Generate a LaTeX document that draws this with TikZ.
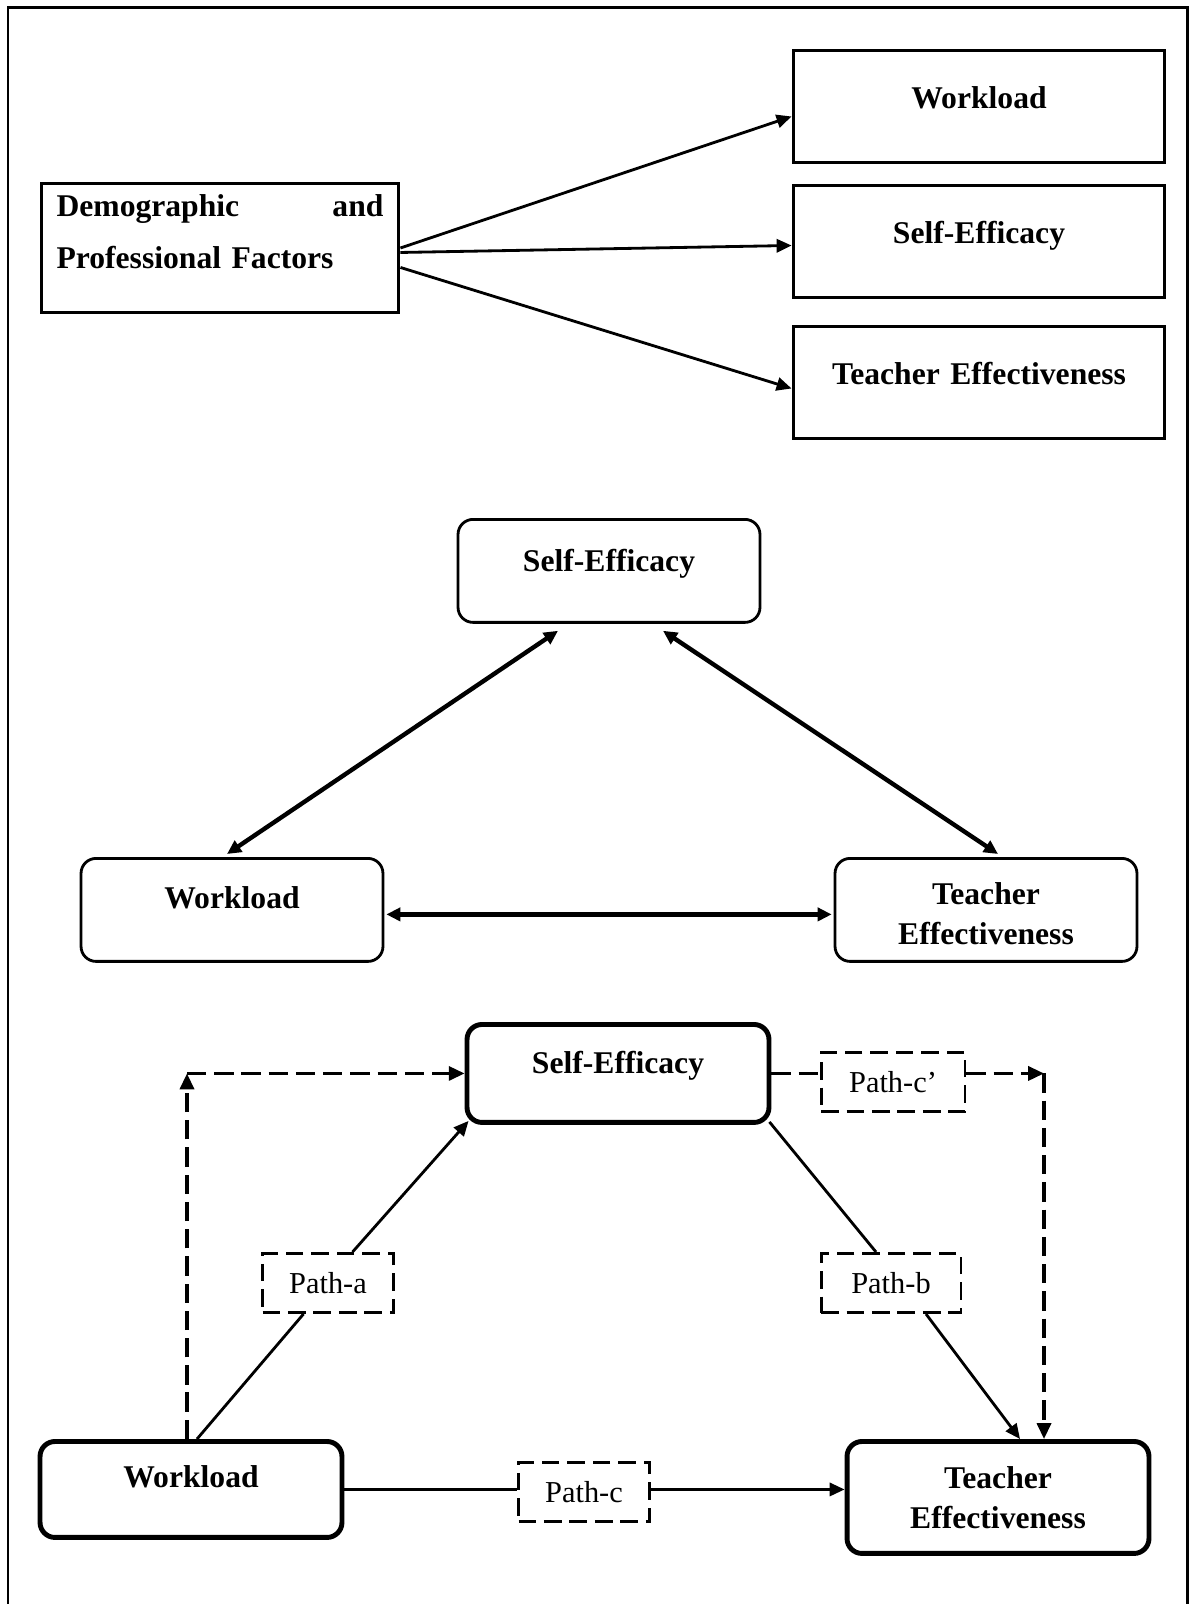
\documentclass[tikz,border=0pt]{standalone}
\usepackage{fontspec}
\setmainfont{Liberation Serif}
\usetikzlibrary{arrows.meta}

\begin{document}
\begin{tikzpicture}[x=0.02cm, y=-0.02cm,
	every node/.style={inner sep=0pt, font=\bfseries\fontsize{18}{22.7}\selectfont},
	sqbox/.style={draw, line width=1.7pt, anchor=north, text width=7.44cm, align=center, text height=1.16cm, text depth=1.08cm},
	rbox/.style={draw, line width=1.6pt, rounded corners=0.3cm, anchor=north, text width=6.04cm, align=center},
	thickbox/.style={rbox, line width=2.8pt},
	pathbox/.style={draw, line width=1.7pt, dash pattern=on 10pt off 4.5pt, minimum height=1.18cm, font=\fontsize{17.3}{20}\selectfont},
	plain/.style={line width=1.6pt},
	link/.style={plain, -{Triangle[length=8.5pt, width=7.5pt]}},
	dashline/.style={line width=1.8pt, dash pattern=on 11pt off 4.5pt},
	dashlink/.style={dashline, -{Triangle[length=9pt, width=8pt]}},
	twoway/.style={line width=2.5pt, {Triangle[length=8pt, width=7.5pt]}-{Triangle[length=8pt, width=7.5pt]}}]
	\useasboundingbox (0,0) rectangle (1191,1604);
	\draw[line width=1.7pt] (8,1604) -- (8,8) -- (1187,8) -- (1187,1604);

	\node[draw, line width=1.7pt, anchor=north, text width=6.54cm, inner xsep=0.31cm, align=left, font=\bfseries\fontsize{18}{29.5}\selectfont, text height=0.66cm, text depth=1.92cm] (demo) at (220,182) {Demographic\hfill and\\Professional Factors};
	\node[sqbox] (wl1) at (979,49) {Workload};
	\node[sqbox] (se1) at (979,184) {Self-Efficacy};
	\node[sqbox] (te1) at (979,325) {Teacher Effectiveness};
	\draw[link] (demo.east) -- ([yshift=-0.2cm]wl1.west);
	\draw[link] ([yshift=-0.09cm]demo.east) -- ([yshift=-0.08cm]se1.west);
	\draw[link] ([yshift=-0.39cm]demo.east) -- ([yshift=-0.12cm]te1.west);

	\node[rbox, text height=1.04cm, text depth=1.02cm] (se2) at (609,518) {Self-Efficacy};
	\node[rbox, text height=1cm, text depth=1.06cm] (wl2) at (232,857) {Workload};
	\node[rbox, text height=0.92cm, text depth=1.14cm] (te2) at (986,857) {Teacher\\Effectiveness};
	\draw[twoway] ([xshift=-1.02cm,yshift=-0.14cm]se2.south) -- ([xshift=-0.1cm,yshift=0.06cm]wl2.north);
	\draw[twoway] ([xshift=1.08cm,yshift=-0.14cm]se2.south) -- ([xshift=0.24cm,yshift=0.06cm]te2.north);
	\draw[twoway] ([xshift=0.04cm,yshift=-0.09cm]wl2.east) -- ([xshift=-0.04cm,yshift=-0.09cm]te2.west);

	\node[thickbox, text height=0.98cm, text depth=0.98cm] (se3) at (618,1022) {Self-Efficacy};
	\node[thickbox, text height=0.92cm, text depth=1cm] (wl3) at (191,1439) {Workload};
	\node[thickbox, text height=0.94cm, text depth=1.3cm] (te3) at (998,1439) {Teacher\\Effectiveness};
	\node[pathbox, minimum width=2.62cm] (pa) at (328,1283) {Path-a};
	\node[pathbox, minimum width=2.8cm] (pb) at (891,1283) {Path-b};
	\node[pathbox, minimum width=2.62cm] (pc) at (584,1492) {Path-c};
	\node[pathbox, minimum width=2.88cm] (pcp) at (893,1082) {Path-c’};
	\coordinate (wlTop) at ([xshift=-0.08cm]wl3.north);
	\coordinate (upL) at (wlTop |- se3.west);
	\coordinate (teTop) at ([xshift=0.92cm]te3.north);
	\coordinate (upR) at (teTop |- se3.east);
	\draw[plain] ([xshift=0.12cm]wl3.north) -- ([xshift=-0.49cm]pa.south);
	\draw[link] ([xshift=0.49cm]pa.north) -- ([xshift=0.08cm,yshift=0.08cm]se3.south west);
	\draw[plain] ([xshift=-0.04cm,yshift=0.06cm]se3.south east) -- ([xshift=-0.3cm]pb.north);
	\draw[link] ([xshift=0.7cm]pb.south) -- ([xshift=0.44cm]te3.north);
	\draw[plain] (wl3.east) -- (wl3.east -| pc.west);
	\draw[link] (pc.east |- wl3.east) -- (te3.west |- wl3.east);
	\draw[dashlink] (wlTop) -- (upL);
	\draw[dashlink] (upL) -- (se3.west);
	\draw[dashline] (se3.east) -- (se3.east -| pcp.west);
	\draw[dashlink] (pcp.east |- se3.east) -- (upR);
	\draw[dashlink] (upR) -- (teTop);
\end{tikzpicture}
\end{document}
